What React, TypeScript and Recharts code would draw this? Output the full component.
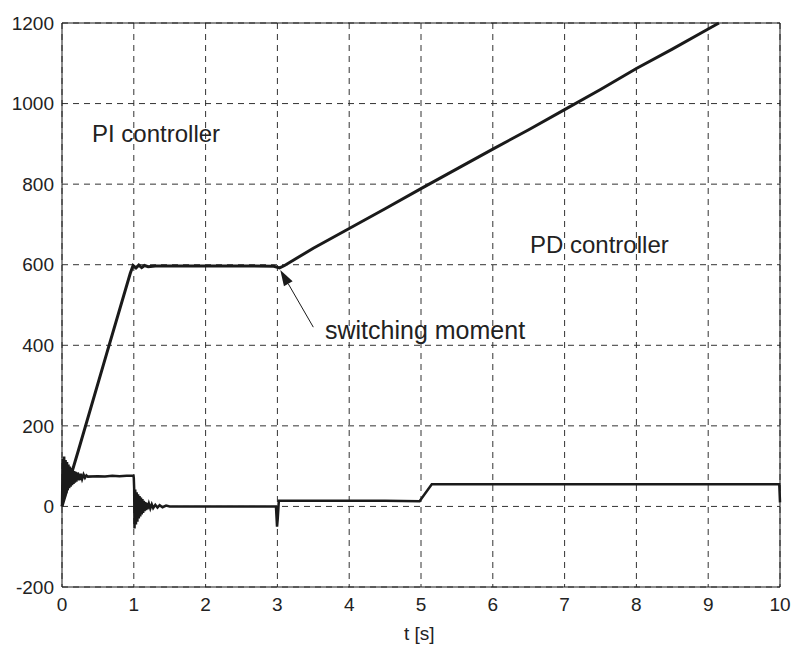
import React from "react";
import {
  LineChart,
  Line,
  XAxis,
  YAxis,
  CartesianGrid,
  ReferenceLine,
} from "recharts";

// speed response (upper curve)
const speedTime = [
  0, 0.05, 0.1, 0.23, 0.62, 0.95, 0.99, 1.03, 1.07, 1.11, 1.15, 1.2, 1.3, 1.5, 2, 2.5,
  2.95, 3.03, 3.1, 3.5, 4, 4.5, 5, 5.5, 6, 6.5, 7, 7.5, 8, 8.5, 9, 9.15,
];
const speedValue = [
  0, 30, 62, 140, 378, 578, 598, 592, 599, 593, 598, 595, 597, 597, 597, 597,
  596, 592, 598, 641, 690, 739, 789, 838, 887, 935, 985, 1035, 1087, 1135, 1185, 1200,
];

// controller output (lower curve)
const controlTime = [
  0, 0.01, 0.02, 0.03, 0.04, 0.05, 0.06, 0.07, 0.08, 0.09, 0.1, 0.11, 0.12, 0.13, 0.14,
  0.15, 0.16, 0.17, 0.18, 0.19, 0.2, 0.22, 0.24, 0.26, 0.28, 0.3, 0.32, 0.34, 0.36,
  0.5, 0.6, 0.7, 0.8, 0.9, 0.995,
  1.0, 1.005, 1.01, 1.02, 1.03, 1.04, 1.05, 1.06, 1.07, 1.08, 1.09, 1.1, 1.11, 1.12,
  1.13, 1.14, 1.15, 1.16, 1.17, 1.18, 1.19, 1.21, 1.23, 1.25, 1.27, 1.3, 1.33, 1.36,
  1.4, 1.45, 1.5, 2, 2.5, 2.98, 2.995, 3.005, 3.02, 3.5, 4, 4.5, 4.98, 5.15, 6, 7, 8,
  9, 9.99, 10,
];
const controlValue = [
  0, 118, 15, 124, 25, 115, 33, 110, 40, 104, 45, 99, 49, 95, 53,
  91, 56, 88, 59, 86, 62, 84, 65, 81, 68, 79, 71, 77, 74,
  75, 74, 76, 75, 76, 76,
  70, 45, -55, 42, -45, 35, -38, 30, -30, 26, -25, 22, -20, 18,
  -16, 14, -12, 11, -9, 9, -7, 7, -5, 5, -4, 4, -3, 3,
  -2, 2, 0, 0, 0, 0, -50, -30, 14, 14, 14, 14, 13, 55, 55, 55, 55,
  55, 55, 10,
];

const xTicks = [0, 1, 2, 3, 4, 5, 6, 7, 8, 9, 10];
const yTicks = [-200, 0, 200, 400, 600, 800, 1000, 1200];

const speedData = speedTime.map((t, i) => ({ t, v: speedValue[i] }));
const controlData = controlTime.map((t, i) => ({ t, v: controlValue[i] }));

const ink = "#1a1a1a";
const font = "'Liberation Sans', Arial, Helvetica, sans-serif";

const Arrow = (props: any) => {
  const { x1, y1, x2, y2 } = props;
  const ang = Math.atan2(y2 - y1, x2 - x1);
  const len = 16;
  const half = 5;
  const bx = x2 - len * Math.cos(ang);
  const by = y2 - len * Math.sin(ang);
  const px = -Math.sin(ang) * half;
  const py = Math.cos(ang) * half;
  return (
    <g>
      <line x1={x1} y1={y1} x2={bx} y2={by} stroke={ink} strokeWidth={1} />
      <polygon
        points={`${x2},${y2} ${bx + px},${by + py} ${bx - px},${by - py}`}
        fill={ink}
      />
    </g>
  );
};

const labelStyle: React.CSSProperties = {
  position: "absolute",
  fontFamily: font,
  fontSize: 24,
  lineHeight: "24px",
  color: "#222",
  whiteSpace: "nowrap",
};

export default function App() {
  return (
    <div style={{ position: "relative", width: 794, height: 646, background: "#fff" }}>
      <style>{`body{margin:0}`}</style>
      <LineChart
        width={794}
        height={646}
        margin={{ top: 23, right: 14, bottom: 0, left: 0 }}
      >
        <CartesianGrid stroke="#333" strokeDasharray="6 5" />
        <XAxis
          type="number"
          dataKey="t"
          domain={[0, 10]}
          ticks={xTicks}
          height={59}
          tickLine={false}
          tickMargin={5}
          axisLine={{ stroke: ink }}
          tick={{ fill: "#222", fontSize: 19, fontFamily: font }}
          allowDuplicatedCategory={false}
        />
        <YAxis
          type="number"
          domain={[-200, 1200]}
          ticks={yTicks}
          width={62}
          tickLine={false}
          axisLine={{ stroke: ink }}
          tick={{ fill: "#222", fontSize: 19, fontFamily: font }}
        />
        <ReferenceLine y={1200} stroke={ink} />
        <ReferenceLine x={10} stroke={ink} />
        <Line
          data={speedData}
          dataKey="v"
          type="linear"
          stroke={ink}
          strokeWidth={3}
          dot={false}
          isAnimationActive={false}
        />
        <Line
          data={controlData}
          dataKey="v"
          type="linear"
          stroke={ink}
          strokeWidth={2.5}
          dot={false}
          isAnimationActive={false}
        />
        <ReferenceLine
          segment={[
            { x: 3.5, y: 445 },
            { x: 3.04, y: 587 },
          ]}
          shape={Arrow}
        />
      </LineChart>
      <div style={{ ...labelStyle, left: 92, top: 122 }}>PI controller</div>
      <div style={{ ...labelStyle, left: 530, top: 233 }}>PD controller</div>
      <div style={{ ...labelStyle, fontSize: 25, left: 325, top: 318 }}>switching moment</div>
      <div style={{ ...labelStyle, fontSize: 19, left: 404, top: 622 }}>t [s]</div>
    </div>
  );
}
